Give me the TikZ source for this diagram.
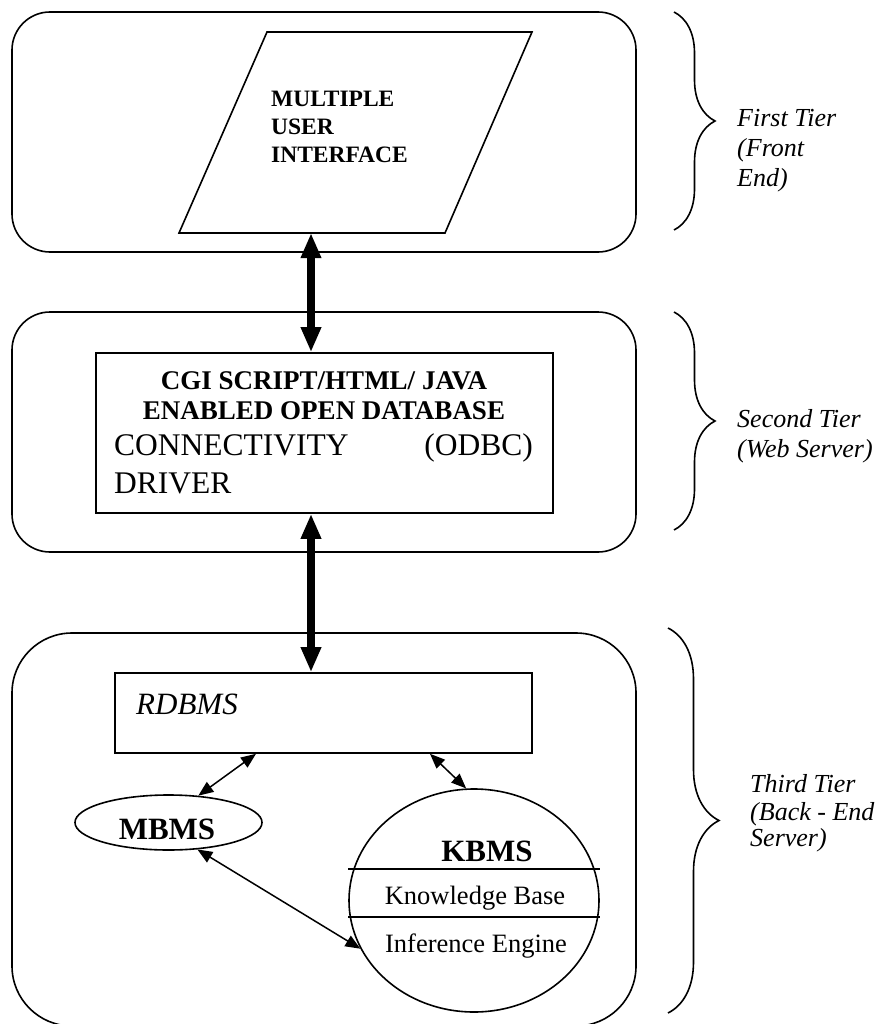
\documentclass[tikz,border=0pt]{standalone}
\usepackage{fontspec}
\setmainfont{Liberation Serif}
\usetikzlibrary{arrows.meta,decorations.pathreplacing,shapes.geometric,calc}

\begin{document}
\begin{tikzpicture}[x=1pt,y=-1pt,
  outline/.style={line width=1.6pt},
  tierbox/.style={outline, draw, rectangle, minimum width=624pt, inner sep=0pt},
  innerbox/.style={outline, draw, rectangle, inner sep=0pt},
  oval/.style={outline, draw, ellipse, inner sep=0pt},
  bigarrow/.style={line width=7.5pt, {Triangle[length=25pt,width=19pt]}-{Triangle[length=25pt,width=19pt]}},
  smallarrow/.style={line width=1.5pt, {Triangle[length=15pt,width=12pt]}-{Triangle[length=15pt,width=12pt]}},
  tierbrace/.style={line width=1.6pt, decorate, decoration={brace, amplitude=#1}},
  label/.style={inner sep=0pt},
  uifont/.style={label, font=\bfseries\fontsize{23.5}{28}\selectfont},
  cgifont/.style={label, font=\bfseries\fontsize{27}{30}\selectfont},
  plainbig/.style={label, font=\fontsize{31.5}{36}\selectfont},
  tierfont/.style={label, font=\itshape\fontsize{26}{30}\selectfont},
  kbfont/.style={label, font=\fontsize{26.5}{30}\selectfont},
  headfont/.style={label, font=\bfseries\fontsize{31}{34}\selectfont}
]
\useasboundingbox (0,0) rectangle (879,1024);

% ---- the three tiers ----
\node[tierbox, rounded corners=38pt, minimum height=240pt] (tier1) at (324,132) {};
\node[tierbox, rounded corners=38pt, minimum height=240pt] (tier2) at (324,432) {};
\node[tierbox, rounded corners=60pt, minimum height=393pt] (tier3) at (324,829.5) {};

% ---- first tier: user interface ----
\draw[outline] (267,32) -- (532,32) -- (445,233) -- (179,233) -- cycle;
\coordinate (uib) at (311,233);
\node[uifont, anchor=base west] (ui1) at (271,107) {MULTIPLE};
\node[uifont, anchor=base west] (ui2) at (271,135) {USER};
\node[uifont, anchor=base west] (ui3) at (271,163) {INTERFACE};

% ---- second tier: web server ----
\node[innerbox, minimum width=457pt, minimum height=160pt] (cgi) at (324.5,433) {};
\node[cgifont, anchor=base] (cgiA) at (324,389) {CGI SCRIPT/HTML/ JAVA};
\node[cgifont, anchor=base] (cgiB) at (324,419) {ENABLED OPEN DATABASE};
\node[plainbig, anchor=base west] (conn) at (114,455) {CONNECTIVITY};
\node[plainbig, anchor=base east] (odbc) at (533,455) {(ODBC)};
\node[plainbig, anchor=base west] (drv) at (114,493) {DRIVER};

% ---- third tier: back-end server ----
\node[innerbox, minimum width=417pt, minimum height=80pt] (rdbms) at (323.5,713) {};
\node[label, font=\itshape\fontsize{31}{36}\selectfont, anchor=base west] (rdbmstext) at (136,714) {RDBMS};

\node[oval, minimum width=187pt, minimum height=55pt] (mbms) at (168.5,822.5) {};
\node[headfont, anchor=base] (mbmstext) at (167,839) {MBMS};

\node[oval, minimum width=250pt, minimum height=223pt] (kbms) at (474,900.5) {};
\draw[outline] ([yshift=31.5pt]kbms.west) -- ([yshift=31.5pt]kbms.east);
\draw[outline] ([yshift=-16.5pt]kbms.west) -- ([yshift=-16.5pt]kbms.east);
\node[headfont, anchor=base] (kbmstext) at (487,861) {KBMS};
\node[kbfont, anchor=base] (kb) at (475,904) {Knowledge Base};
\node[kbfont, anchor=base] (ie) at (476,952) {Inference Engine};

% ---- connectors ----
\draw[bigarrow] (uib) -- (cgi.north -| uib);
\draw[bigarrow] (cgi.south -| uib) -- (rdbms.north -| uib);
\draw[smallarrow] ([xshift=-67.5pt]rdbms.south) -- (mbms.42);
\draw[smallarrow] ([xshift=106.5pt]rdbms.south) -- (kbms.94);
\draw[smallarrow] (mbms.-43) -- (kbms.203);

% ---- braces and tier captions ----
\draw[tierbrace=41pt] (674,12) -- (674,230);
\draw[tierbrace=41pt] (674,312) -- (674,530);
\draw[tierbrace=51pt] (668,628) -- (668,1013);

\node[tierfont, anchor=base west] (t1a) at (737,127) {First Tier};
\node[tierfont, anchor=base west] (t1b) at (737,157) {(Front};
\node[tierfont, anchor=base west] (t1c) at (737,187) {End)};
\node[tierfont, anchor=base west] (t2a) at (737,427) {Second Tier};
\node[tierfont, anchor=base west] (t2b) at (737,457) {(Web Server)};
\node[tierfont, anchor=base west] (t3a) at (750,792) {Third Tier};
\node[tierfont, anchor=base west] (t3b) at (750,820) {(Back - End};
\node[tierfont, anchor=base west] (t3c) at (750,846) {Server)};
\end{tikzpicture}
\end{document}
